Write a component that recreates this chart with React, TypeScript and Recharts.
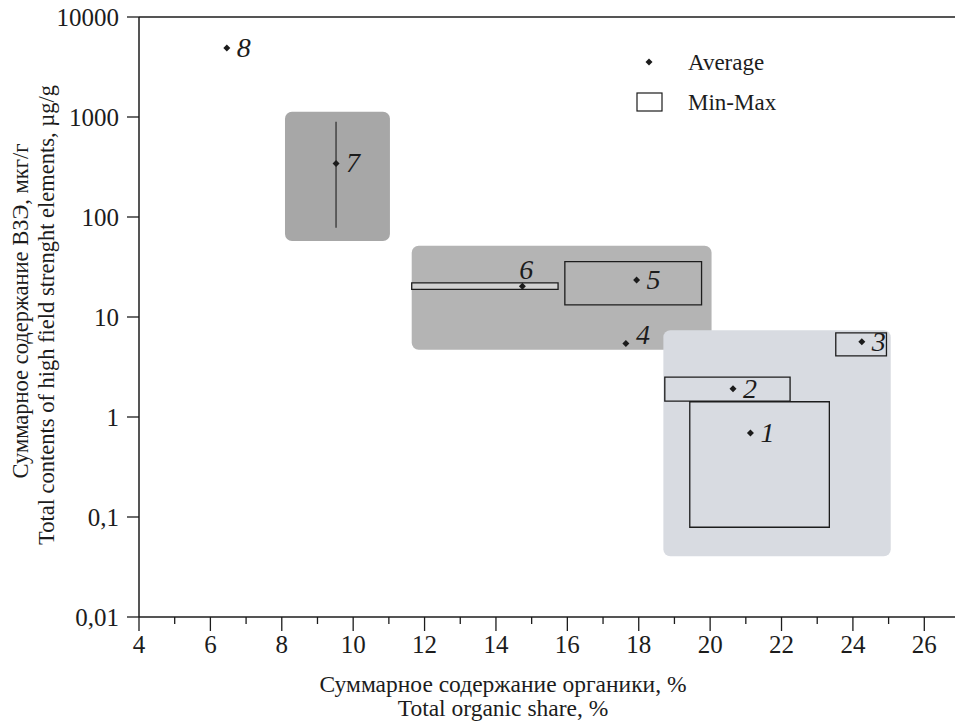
import React from "react";
import {
  ComposedChart,
  Scatter,
  XAxis,
  YAxis,
  ReferenceArea,
  ReferenceLine,
  Legend,
  Label,
} from "recharts";

// averages per group
const groupLabels = ["1", "2", "3", "4", "5", "6", "7", "8"];
const avgOrganic = [21.13, 20.64, 24.25, 17.64, 17.94, 14.74, 9.52, 6.46];
const avgHfse = [0.69, 1.92, 5.65, 5.44, 23.4, 20.3, 343, 4900];

// min-max boxes (outlined)
const boxOrgMin = [19.43, 18.73, 23.52, 15.93, 11.64];
const boxOrgMax = [23.34, 22.24, 24.94, 19.76, 15.74];
const boxHfseMin = [0.079, 1.44, 4.08, 13.2, 18.9];
const boxHfseMax = [1.42, 2.51, 6.95, 35.8, 21.9];

// group 7 min-max is a vertical bar
const range7Organic = 9.52;
const range7Hfse = [78, 898];

// shaded fields
const fieldOrgMin = [8.09, 11.64, 18.69];
const fieldOrgMax = [11.03, 20.04, 25.06];
const fieldHfseMin = [57.5, 4.7, 0.0405];
const fieldHfseMax = [1128, 51.6, 7.38];
const fieldFills = ["#a7a7a7", "#b4b4b4", "#d8dbe1"];

const xTicks = [4, 5, 6, 7, 8, 9, 10, 11, 12, 13, 14, 15, 16, 17, 18, 19, 20, 21, 22, 23, 24, 25, 26];
const yTicks = [0.01, 0.1, 1, 10, 100, 1000, 10000];

const points = groupLabels.map((g, i) => ({ x: avgOrganic[i], y: avgHfse[i], label: g }));

const FONT = "'Liberation Serif', 'Times New Roman', serif";
const INK = "#1c1c1c";

const fmtY = (v: number) => String(v).replace(".", ",");

const Diamond = ({ cx, cy, r = 3.5 }: any) => (
  <path d={`M${cx},${cy - r}L${cx + r},${cy}L${cx},${cy + r}L${cx - r},${cy}Z`} fill={INK} />
);

const PointShape = (props: any) => {
  const { cx, cy, payload } = props;
  let lx = cx + 10;
  let ly = cy + 9;
  if (payload.label === "6") {
    lx = cx - 3;
    ly = cy - 7;
  } else if (payload.label === "4") {
    ly = cy + 1;
  }
  return (
    <g>
      <Diamond cx={cx} cy={cy} />
      <text x={lx} y={ly} fontFamily={FONT} fontStyle="italic" fontSize={28} fill={INK}>
        {payload.label}
      </text>
    </g>
  );
};

const XTick = ({ x, y, payload }: any) => {
  const major = payload.value % 2 === 0;
  return (
    <g>
      <line x1={x} x2={x} y1={y} y2={y + (major ? 14 : 7)} stroke={INK} strokeWidth={1.3} />
      {major && (
        <text x={x} y={y + 36} textAnchor="middle" fontFamily={FONT} fontSize={25} fill={INK}>
          {payload.value}
        </text>
      )}
    </g>
  );
};

const FieldShape = (fill: string) => (p: any) =>
  <rect x={p.x} y={p.y} width={p.width} height={p.height} rx={7} ry={7} fill={fill} />;

const LegendBox = () => (
  <svg width={220} height={72} style={{ display: "block" }}>
    <Diamond cx={19} cy={18} />
    <text x={58} y={26} fontFamily={FONT} fontSize={23} fill={INK}>Average</text>
    <rect x={7} y={49} width={25} height={18} fill="none" stroke={INK} strokeWidth={1.2} />
    <text x={58} y={66} fontFamily={FONT} fontSize={23} fill={INK}>Min-Max</text>
  </svg>
);

export default function App() {
  return (
    <div style={{ position: "absolute", left: 0, top: 0, width: 955, height: 724, background: "#fff" }}>
      <ComposedChart width={955} height={724} margin={{ top: 17, right: 0, bottom: 0, left: 0 }}>
        <XAxis
          type="number"
          dataKey="x"
          domain={[4, 26.86]}
          allowDataOverflow
          ticks={xTicks}
          interval={0}
          tickSize={0}
          tickMargin={0}
          tickLine={false}
          tick={<XTick />}
          height={107}
          axisLine={{ stroke: INK, strokeWidth: 1.5 }}
        >
          <Label
            content={(p: any) => {
              const vb = p.viewBox;
              const cx = vb.x + 364;
              return (
                <g fontFamily={FONT} fontSize={23.5} fill={INK} textAnchor="middle">
                  <text x={cx} y={vb.y + 75}>Суммарное содержание органики, %</text>
                  <text x={cx} y={vb.y + 99}>Total organic share, %</text>
                </g>
              );
            }}
          />
        </XAxis>
        <YAxis
          type="number"
          dataKey="y"
          scale="log"
          domain={[0.01, 10000]}
          allowDataOverflow
          ticks={yTicks}
          interval={0}
          tickFormatter={fmtY}
          tickSize={12}
          tickMargin={8}
          width={139}
          tick={{ fontFamily: FONT, fontSize: 25, fill: INK }}
          tickLine={{ stroke: INK, strokeWidth: 1.3 }}
          axisLine={{ stroke: INK, strokeWidth: 1.5 }}
        >
          <Label
            content={(p: any) => {
              const vb = p.viewBox;
              const c1 = vb.y + 294;
              const c2 = vb.y + 298;
              return (
                <g fontFamily={FONT} fontSize={22.5} fill={INK} textAnchor="middle">
                  <text x={28} y={c1} transform={`rotate(-90, 28, ${c1})`}>
                    Суммарное содержание ВЗЭ, мкг/г
                  </text>
                  <text x={54} y={c2} transform={`rotate(-90, 54, ${c2})`}>
                    Total contents of high field strenght elements, µg/g
                  </text>
                </g>
              );
            }}
          />
        </YAxis>
        <ReferenceLine y={10000} stroke={INK} strokeWidth={1.3} />
        {fieldOrgMin.map((x1, i) => (
          <ReferenceArea
            key={`field-${i}`}
            x1={x1}
            x2={fieldOrgMax[i]}
            y1={fieldHfseMin[i]}
            y2={fieldHfseMax[i]}
            fillOpacity={1}
            shape={FieldShape(fieldFills[i])}
          />
        ))}
        {boxOrgMin.map((x1, i) => (
          <ReferenceArea
            key={`box-${i}`}
            x1={x1}
            x2={boxOrgMax[i]}
            y1={boxHfseMin[i]}
            y2={boxHfseMax[i]}
            fill={i === 4 ? "#d2d2d2" : "none"}
            fillOpacity={1}
            stroke={INK}
            strokeWidth={1.3}
          />
        ))}
        <ReferenceLine
          segment={[
            { x: range7Organic, y: range7Hfse[0] },
            { x: range7Organic, y: range7Hfse[1] },
          ]}
          stroke="#444"
          strokeWidth={1.5}
        />
        <Scatter data={points} dataKey="y" isAnimationActive={false} shape={<PointShape />} />
        <Legend
          layout="horizontal"
          verticalAlign="middle"
          align="center"
          content={() => <LegendBox />}
          wrapperStyle={{ position: "absolute", left: 630, top: 44, width: 220, height: 72 }}
        />
      </ComposedChart>
    </div>
  );
}
